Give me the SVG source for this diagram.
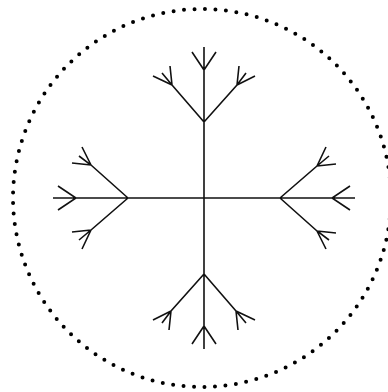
<svg xmlns="http://www.w3.org/2000/svg" xmlns:xlink="http://www.w3.org/1999/xlink" width="388" height="392" viewBox="0 0 388 392">
  <style>
    .ring { fill: none; stroke: #000; stroke-width: 4; stroke-linecap: round; stroke-dasharray: 0 10.509; }
    .arm { fill: none; stroke: #111; stroke-width: 1.6; stroke-linecap: butt; stroke-linejoin: miter; }
  </style>
  <defs>
    <g id="arm">
      <path class="arm" d="M0,0 V-151 M-12,-146 L0,-128 L12,-146 M0,-76 L-32,-113 L-42,-125 M-32,-113 L-34,-132 M-32,-113 L-51,-122 M0,-76 L33,-113 L42,-125 M33,-113 L35,-132 M33,-113 L51,-122"/>
    </g>
  </defs>
  <rect width="388" height="392" fill="#fff"/>
  <circle id="ring" class="ring" cx="202" cy="198" r="189"/>
  <g id="snowflake" transform="translate(204,198)">
    <use xlink:href="#arm" href="#arm"/>
    <use xlink:href="#arm" href="#arm" transform="rotate(90)"/>
    <use xlink:href="#arm" href="#arm" transform="rotate(180)"/>
    <use xlink:href="#arm" href="#arm" transform="rotate(270)"/>
  </g>
</svg>
